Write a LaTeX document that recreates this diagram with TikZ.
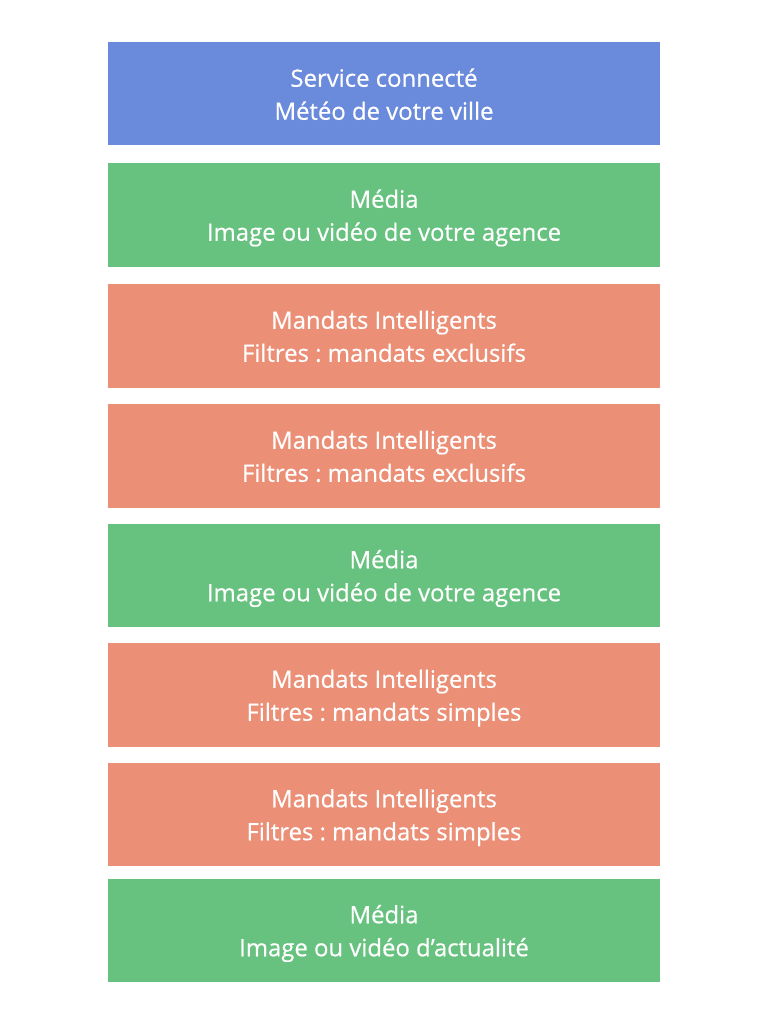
\documentclass[tikz,border=0pt]{standalone}
\usepackage{fontspec}
\setmainfont{Open Sans}[FakeBold=0.5]
\frenchspacing
\usetikzlibrary{positioning}
\definecolor{servblue}{RGB}{106,138,219}
\definecolor{mediagreen}{RGB}{102,194,126}
\definecolor{mandsalmon}{RGB}{235,143,118}
\tikzset{
  block/.style={rectangle, minimum width=552pt, minimum height=103.5pt, inner sep=0pt, outer sep=0pt, text height=52pt, text depth=0pt, text centered, align=center, text=white, font=\fontsize{23.9pt}{33pt}\selectfont},
  service/.style={block, fill=servblue},
  media/.style={block, fill=mediagreen},
  mandat/.style={block, fill=mandsalmon}
}
\begin{document}
\begin{tikzpicture}[x=1pt, y=1pt]
    \useasboundingbox (0,0) rectangle (768,-1024);
    % Defining nodes
    \node[service, anchor=north] (meteo) at (384,-42) {Service connecté\\Météo de votre ville};
    \node[media, below=17.5pt of meteo] (media1) {Média\\Image ou vidéo de votre agence};
    \node[mandat, below=17.5pt of media1] (excl1) {Mandats Intelligents\\Filtres : mandats exclusifs};
    \node[mandat, below=16.5pt of excl1] (excl2) {Mandats Intelligents\\Filtres : mandats exclusifs};
    \node[media, below=16pt of excl2] (media2) {Média\\Image ou vidéo de votre agence};
    \node[mandat, below=16pt of media2] (simple1) {Mandats Intelligents\\Filtres : mandats simples};
    \node[mandat, below=16pt of simple1] (simple2) {Mandats Intelligents\\Filtres : mandats simples};
    \node[media, below=12.5pt of simple2] (media3) {Média\\Image ou vidéo d’actualité};
\end{tikzpicture}
\end{document}
